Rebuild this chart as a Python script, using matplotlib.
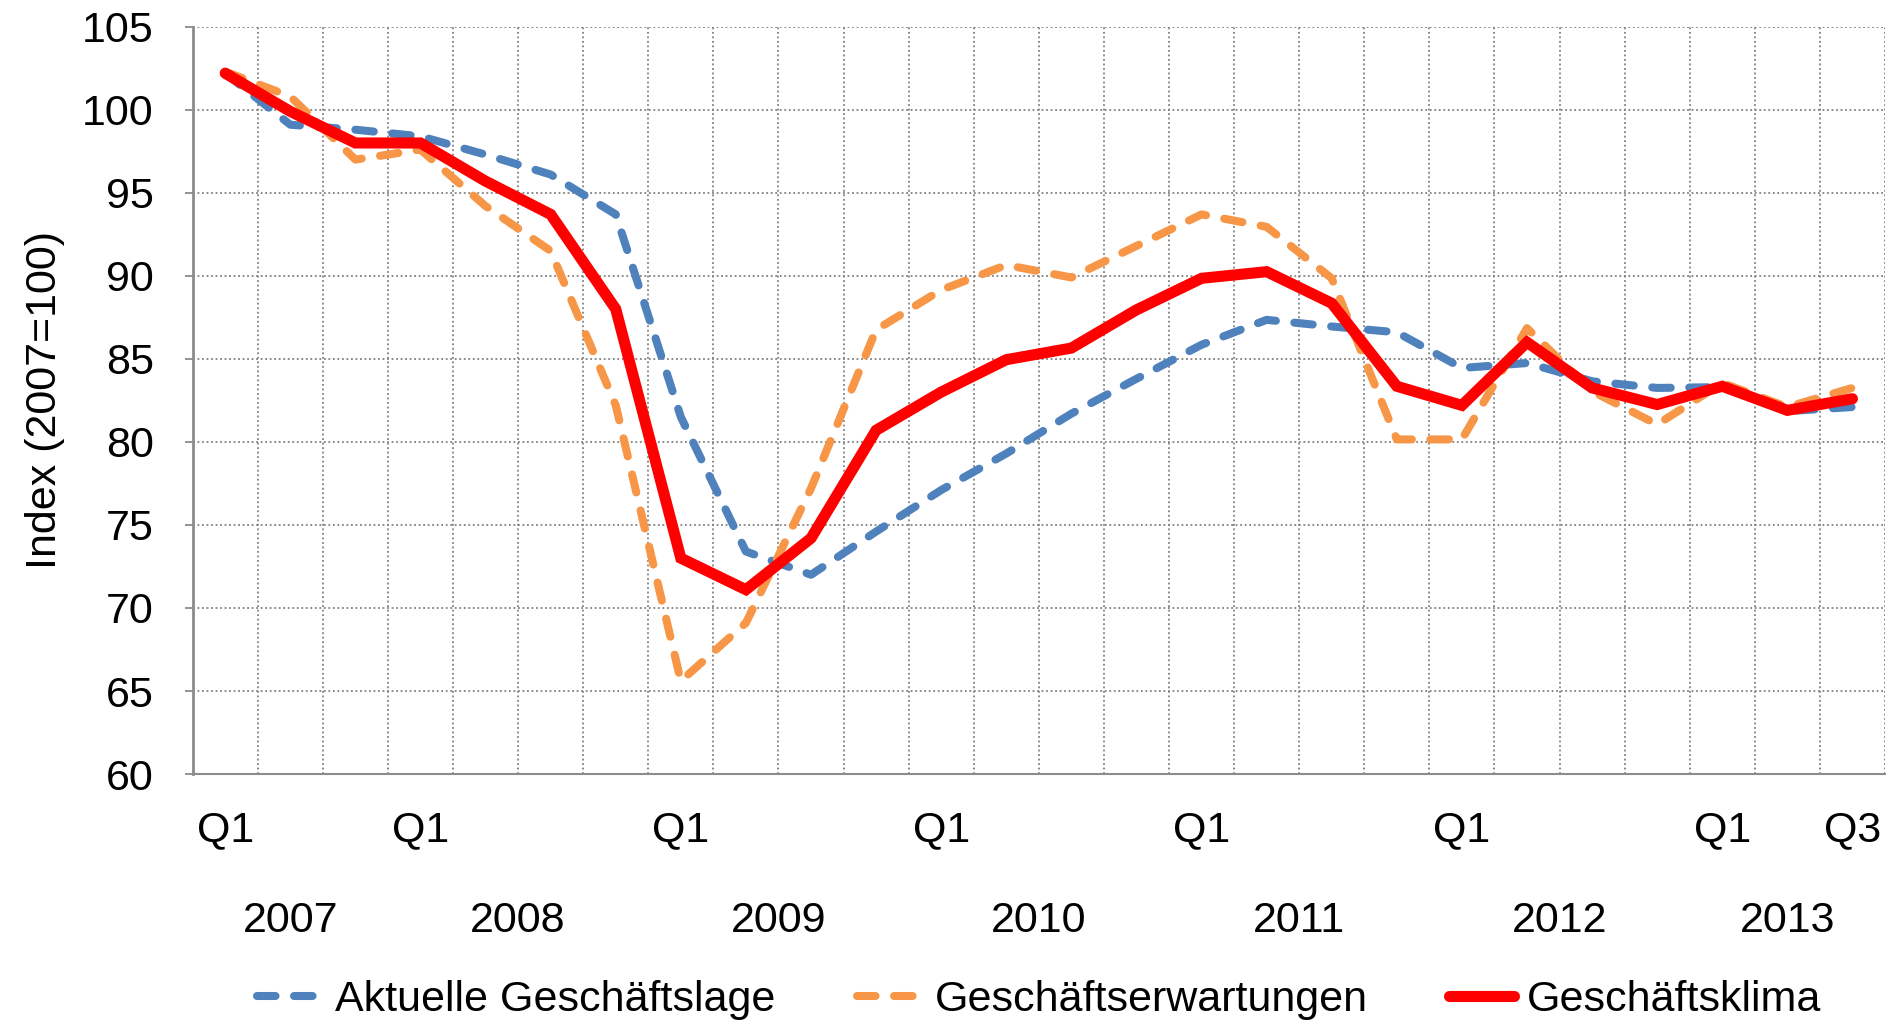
import matplotlib
matplotlib.use("Agg")
import matplotlib.pyplot as plt
import matplotlib.transforms as mtransforms

# ---- data ----
quarter_labels = ["Q1", "Q1", "Q1", "Q1", "Q1", "Q1", "Q1", "Q3"]
quarter_label_idx = [0, 3, 7, 11, 15, 19, 23, 25]
years = ["2007", "2008", "2009", "2010", "2011", "2012", "2013"]
year_center_idx = [1, 4.5, 8.5, 12.5, 16.5, 20.5, 24]

aktuelle_lage = [102.2, 99.1, 98.8, 98.4, 97.3, 96.1, 93.7, 81.5, 73.4, 72.0,
                 74.6, 77.1, 79.3, 81.7, 83.8, 85.85, 87.35, 86.95, 86.6, 84.45,
                 84.75, 83.65, 83.25, 83.3, 81.85, 82.1]
erwartungen = [102.3, 100.8, 97.0, 97.6, 94.2, 91.5, 82.2, 65.6, 69.1, 77.2,
               86.75, 89.15, 90.65, 89.9, 91.8, 93.7, 92.95, 89.85, 80.15, 80.15,
               86.85, 83.05, 81.05, 83.55, 82.1, 83.25]
klima = [102.2, 99.9, 98.0, 98.0, 95.7, 93.7, 88.0, 73.0, 71.1, 74.2,
         80.7, 83.0, 84.95, 85.65, 87.95, 89.85, 90.25, 88.35, 83.35, 82.2,
         86.0, 83.25, 82.25, 83.35, 81.9, 82.6]
series_names = ["Aktuelle Geschäftslage", "Geschäftserwartungen", "Geschäftsklima"]

# ---- style ----
plt.rcParams['font.family'] = ['Liberation Sans', 'DejaVu Sans']
FS = 31

fig = plt.figure(figsize=(19, 10.24), dpi=100)
ax = fig.add_axes([0.1014, 0.2441, 0.8907, 0.7298])

x = list(range(len(klima)))
ax.plot(x, aktuelle_lage, color="#4F81BD", lw=5.8, dashes=(2.3, 2.3),
        dash_capstyle="round", dash_joinstyle="round", label=series_names[0], zorder=3)
ax.plot(x, erwartungen, color="#F79646", lw=5.8, dashes=(2.3, 2.3),
        dash_capstyle="round", dash_joinstyle="round", label=series_names[1], zorder=3)
ax.plot(x, klima, color="#FF0000", lw=8, solid_capstyle="round",
        solid_joinstyle="miter", label=series_names[2], zorder=4)

n = len(klima)
ax.set_xlim(-0.5, n - 0.5)
ax.set_ylim(60, 105)
ax.set_yticks(range(60, 106, 5))
ax.set_yticklabels([str(v) for v in range(60, 106, 5)], fontsize=FS)

# grid
for b in range(1, n + 1):
    ax.axvline(b - 0.5, color="#808080", lw=1.3, ls=(0, (1, 1.5)), zorder=1)
for v in range(65, 106, 5):
    ax.axhline(v, color="#808080", lw=1.3, ls=(0, (1, 1.5)), zorder=1)

ax.set_xticks(quarter_label_idx)
ax.set_xticklabels(quarter_labels, fontsize=FS)
ax.tick_params(axis="x", length=0, pad=26)
ax.tick_params(axis="y", length=6, width=1.2, color="#808080", pad=22)

for s in ["top", "right"]:
    ax.spines[s].set_visible(False)
ax.spines["left"].set_color("#8C8C8C")
ax.spines["left"].set_linewidth(2)
ax.spines["bottom"].set_color("#8C8C8C")
ax.spines["bottom"].set_linewidth(1.5)

trans = mtransforms.blended_transform_factory(ax.transData, ax.transAxes)
for yl, xc in zip(years, year_center_idx):
    ax.text(xc, -0.197, yl, transform=trans, ha="center", va="center", fontsize=FS)

ax.set_ylabel("Index (2007=100)", fontsize=FS, labelpad=12)

leg = fig.legend(loc="center", bbox_to_anchor=(0.547, 0.023), ncol=3, frameon=False,
                 fontsize=FS, handlelength=1.5, handletextpad=0.3, columnspacing=1.9)

fig.savefig("out.png", dpi=100)
